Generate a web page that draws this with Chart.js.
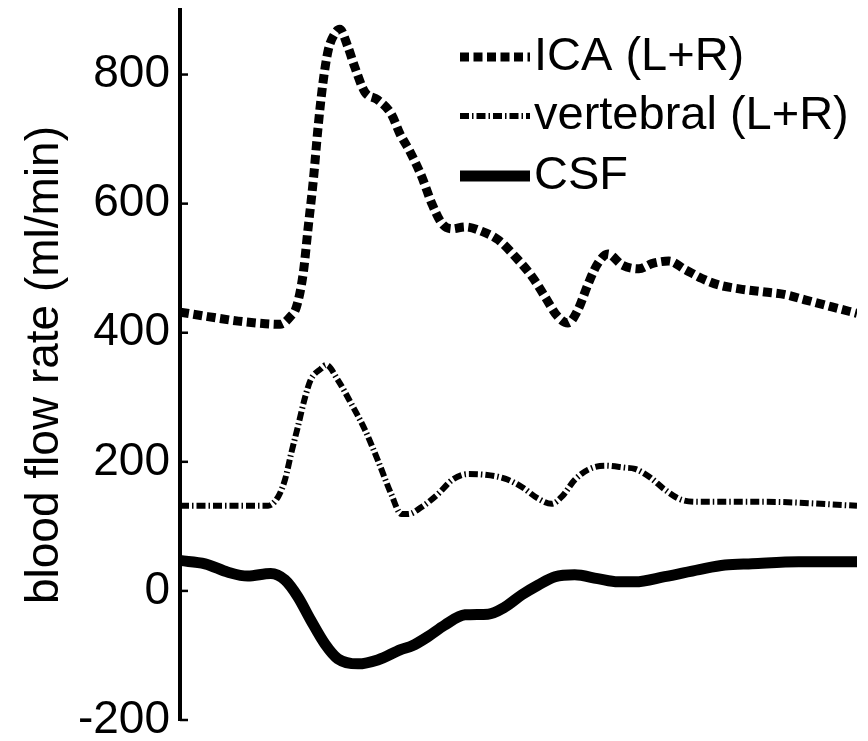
<!DOCTYPE html>
<html>
<head>
<meta charset="utf-8">
<title>Blood flow rate</title>
<script src="https://cdn.jsdelivr.net/npm/chart.js@4.4.1/dist/chart.umd.min.js"></script>
<style>
  html, body { margin: 0; padding: 0; background: #ffffff; }
  #wrap { width: 868px; height: 741px; }
</style>
</head>
<body>
<div id="wrap"><canvas id="flowChart" width="868" height="741"></canvas></div>
<script>
// Phase of the cardiac cycle (0..1) and flow rate in ml/min
const icaPhase = [0, 0.041, 0.086, 0.126, 0.148, 0.163, 0.172, 0.182, 0.189, 0.197, 0.204, 0.211, 0.219, 0.229, 0.236, 0.248, 0.258, 0.273, 0.292, 0.312, 0.325, 0.340, 0.357, 0.372, 0.387, 0.402, 0.421, 0.446, 0.470, 0.495, 0.520, 0.539, 0.558, 0.573, 0.588, 0.603, 0.617, 0.632, 0.653, 0.678, 0.697, 0.722, 0.746, 0.771, 0.796, 0.826, 0.864, 0.894, 0.923, 0.963, 1];
const icaFlow = [432, 425, 418, 414, 413, 425, 440, 492, 560, 637, 719, 786, 838, 864, 870, 843, 812, 773, 761, 739, 708, 680, 642, 600, 569, 561, 564, 557, 544, 518, 487, 456, 425, 415, 436, 476, 507, 522, 505, 499, 507, 511, 498, 484, 474, 468, 463, 459, 451, 440, 430];

const vertPhase = [0, 0.130, 0.145, 0.155, 0.164, 0.174, 0.185, 0.193, 0.208, 0.216, 0.233, 0.253, 0.273, 0.292, 0.312, 0.327, 0.337, 0.357, 0.381, 0.402, 0.425, 0.450, 0.480, 0.505, 0.529, 0.549, 0.564, 0.583, 0.603, 0.628, 0.657, 0.672, 0.693, 0.716, 0.741, 0.767, 0.864, 1];
const vertFlow = [132, 132, 146, 172, 212, 254, 301, 327, 344, 350, 327, 290, 250, 203, 150, 119, 119, 130, 150, 172, 181, 180, 174, 161, 143, 135, 146, 172, 188, 194, 191, 189, 177, 157, 141, 138, 138, 132];

const csfPhase = [0, 0.037, 0.071, 0.100, 0.134, 0.155, 0.174, 0.193, 0.214, 0.233, 0.263, 0.292, 0.326, 0.343, 0.366, 0.391, 0.421, 0.455, 0.480, 0.505, 0.529, 0.554, 0.583, 0.617, 0.647, 0.672, 0.716, 0.767, 0.805, 0.845, 0.914, 1];
const csfFlow = [47, 42, 29, 23, 27, 17, -9, -45, -82, -105, -113, -107, -91, -85, -71, -53, -37, -36, -25, -6, 9, 22, 25, 19, 14, 14, 22, 33, 40, 42, 45, 45];

const seriesLabels = ['ICA (L+R)', 'vertebral (L+R)', 'CSF'];
const yTickValues = [-200, 0, 200, 400, 600, 800];

const FONT = "'Liberation Sans', Arial, Helvetica, sans-serif";

function toPoints(xs, ys) {
  return xs.map((x, i) => ({ x: x, y: ys[i] }));
}

// small tick marks pointing into the plot, like the original figure
const inwardTicks = {
  id: 'inwardTicks',
  afterDatasetsDraw(chart) {
    const { ctx, chartArea } = chart;
    const yScale = chart.scales.y;
    ctx.save();
    ctx.strokeStyle = '#000';
    ctx.lineWidth = 2.5;
    yScale.ticks.forEach(t => {
      const py = yScale.getPixelForValue(t.value);
      ctx.beginPath();
      ctx.moveTo(chartArea.left, py);
      ctx.lineTo(chartArea.left + 8, py);
      ctx.stroke();
    });
    ctx.restore();
  }
};

// legend drawn by hand in the upper right, line sample then label
const sketchLegend = {
  id: 'sketchLegend',
  afterDraw(chart) {
    const ctx = chart.ctx;
    const rows = [57, 116, 176];
    ctx.save();
    ctx.fillStyle = '#000';
    ctx.strokeStyle = '#000';
    ctx.font = '47px ' + FONT;
    ctx.textBaseline = 'middle';
    ctx.textAlign = 'left';
    chart.data.datasets.forEach((ds, i) => {
      const y = rows[i];
      ctx.lineWidth = ds.borderWidth;
      ctx.lineCap = 'butt';
      ctx.setLineDash(ds.borderDash || []);
      ctx.beginPath();
      ctx.moveTo(460, y);
      ctx.lineTo(530, y);
      ctx.stroke();
      ctx.setLineDash([]);
      ctx.fillText(ds.label, 534, y);
    });
    ctx.restore();
  }
};

const ctx = document.getElementById('flowChart').getContext('2d');

new Chart(ctx, {
  type: 'line',
  data: {
    datasets: [
      {
        label: seriesLabels[0],
        data: toPoints(icaPhase, icaFlow),
        borderColor: '#000',
        borderWidth: 9,
        borderDash: [9, 4.5],
        borderCapStyle: 'butt',
        pointRadius: 0,
        cubicInterpolationMode: 'monotone',
        fill: false
      },
      {
        label: seriesLabels[1],
        data: toPoints(vertPhase, vertFlow),
        borderColor: '#000',
        borderWidth: 6,
        borderDash: [9, 3, 1.5, 3],
        borderCapStyle: 'butt',
        pointRadius: 0,
        cubicInterpolationMode: 'monotone',
        fill: false
      },
      {
        label: seriesLabels[2],
        data: toPoints(csfPhase, csfFlow),
        borderColor: '#000',
        borderWidth: 11,
        borderCapStyle: 'butt',
        pointRadius: 0,
        cubicInterpolationMode: 'monotone',
        fill: false
      }
    ]
  },
  options: {
    responsive: false,
    animation: false,
    layout: {
      padding: { left: 0, top: 10, right: 11, bottom: 21 }
    },
    plugins: {
      legend: { display: false },
      tooltip: { enabled: false }
    },
    scales: {
      x: {
        type: 'linear',
        min: 0,
        max: 1,
        display: false
      },
      y: {
        type: 'linear',
        min: -200,
        max: 900,
        afterBuildTicks: scale => {
          scale.ticks = yTickValues.map(v => ({ value: v }));
        },
        afterFit: scale => {
          scale.width = 180;
          scale.paddingTop = 0;
          scale.paddingBottom = 0;
        },
        border: {
          display: true,
          color: '#000',
          width: 4
        },
        grid: {
          drawOnChartArea: false,
          drawTicks: false,
          color: 'rgba(0,0,0,0)'
        },
        ticks: {
          color: '#000',
          padding: 10,
          font: { family: FONT, size: 46 }
        },
        title: {
          display: true,
          text: 'blood flow rate (ml/min)',
          color: '#000',
          padding: { top: 18, bottom: 0 },
          font: { family: FONT, size: 46 }
        }
      }
    }
  },
  plugins: [inwardTicks, sketchLegend]
});
</script>
</body>
</html>
